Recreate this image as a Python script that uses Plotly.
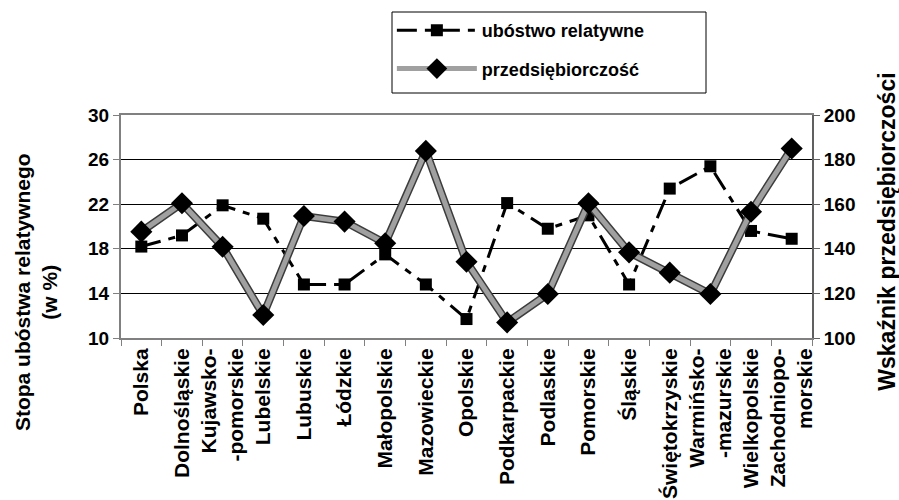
import plotly.graph_objects as go

regions = ["Polska", "Dolnośląskie", "Kujawsko-<br>-pomorskie", "Lubelskie", "Lubuskie",
           "Łódzkie", "Małopolskie", "Mazowieckie", "Opolskie", "Podkarpackie",
           "Podlaskie", "Pomorskie", "Śląskie", "Świętokrzyskie", "Warmińsko-<br>-mazurskie",
           "Wielkopolskie", "Zachodniopo-<br>morskie"]
poverty = [18.2, 19.2, 21.9, 20.7, 14.8, 14.8, 17.5, 14.8, 11.7, 22.1,
           19.8, 21.0, 14.8, 23.4, 25.4, 19.6, 18.9]
enterprise = [147.7, 160.4, 140.9, 110.3, 154.7, 152.2, 142.5, 183.9, 134.2, 107.0,
              119.7, 160.4, 138.4, 129.3, 119.7, 156.6, 185.0]
left_ticks = [10, 14, 18, 22, 26, 30]
right_ticks = [100, 120, 140, 160, 180, 200]

FONT = "Arial, Liberation Sans, sans-serif"

fig = go.Figure()
fig.add_trace(go.Scatter(
    x=regions, y=poverty, name="ubóstwo relatywne", mode="lines+markers",
    legendgroup="a",
    line=dict(color="black", width=3, dash="20px,8px,7px,8px"),
    marker=dict(symbol="square", size=12, color="black"),
    yaxis="y"))
fig.add_trace(go.Scatter(
    x=regions, y=enterprise, showlegend=False, mode="lines", legendgroup="b",
    line=dict(color="#3c3c3c", width=8), hoverinfo="skip", yaxis="y2"))
fig.add_trace(go.Scatter(
    x=regions, y=enterprise, name="przedsiębiorczość", mode="lines+markers",
    legendgroup="b",
    line=dict(color="#a0a0a0", width=5),
    marker=dict(symbol="diamond", size=17, color="black"),
    yaxis="y2"))

fig.update_layout(
    width=899, height=500,
    margin=dict(l=121, r=87, t=115, b=162),
    paper_bgcolor="white", plot_bgcolor="white",
    font=dict(family=FONT, color="black"),
    showlegend=True,
    legend=dict(x=0.392, y=1.462, xanchor="left", yanchor="top",
                borderwidth=0, bgcolor="rgba(0,0,0,0)",
                font=dict(size=18, family=FONT, color="black", weight="bold"),
                itemwidth=80, tracegroupgap=12),
    shapes=[dict(type="rect", xref="paper", yref="paper",
                 x0=(392 - 121) / 691, x1=(706 - 121) / 691,
                 y0=(338 - 93) / 223, y1=(338 - 12) / 223,
                 line=dict(color="black", width=1), fillcolor="rgba(0,0,0,0)")],
    xaxis=dict(type="category", tickangle=-90, tickson="boundaries", automargin=False,
               ticks="outside", ticklen=6, tickcolor="#808080",
               showline=True, linecolor="#808080", linewidth=2, mirror=True,
               showgrid=False,
               tickfont=dict(size=21, family=FONT, color="black", weight="bold"),
               range=[-0.5, 16.5]),
    yaxis=dict(range=[10, 30], tickvals=left_ticks, automargin=False,
               showgrid=True, gridcolor="black", gridwidth=1,
               showline=True, linecolor="#808080", linewidth=2,
               ticks="outside", ticklen=6, tickcolor="#808080", zeroline=False,
               tickfont=dict(size=19, family=FONT, color="black", weight="bold")),
    yaxis2=dict(range=[100, 200], tickvals=right_ticks, automargin=False,
                overlaying="y", side="right", showgrid=False,
                showline=True, linecolor="#606060", linewidth=2,
                ticks="outside", ticklen=6, tickcolor="#606060", zeroline=False,
                tickfont=dict(size=19, family=FONT, color="black", weight="bold")),
    annotations=[
        dict(text="Stopa ubóstwa relatywnego<br>(w %)", textangle=-90,
             xref="paper", yref="paper", x=-0.123, y=0.206,
             xanchor="center", yanchor="middle", showarrow=False,
             font=dict(size=21, family=FONT, color="black", weight="bold")),
        dict(text="Wskaźnik przedsiębiorczości", textangle=-90,
             xref="paper", yref="paper", x=1.108, y=0.475,
             xanchor="center", yanchor="middle", showarrow=False,
             font=dict(size=23, family=FONT, color="black", weight="bold")),
    ],
)

fig.write_html("out.html", config={"displayModeBar": False},
               post_script="document.body.style.margin='0';")
